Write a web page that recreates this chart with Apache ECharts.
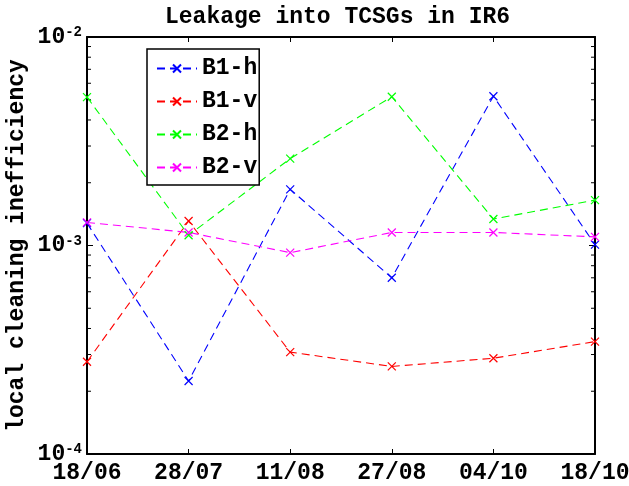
<!DOCTYPE html>
<html>
<head>
<meta charset="utf-8">
<script src="https://cdn.jsdelivr.net/npm/echarts@6/dist/echarts.min.js"></script>
<style>
html,body{margin:0;padding:0;background:#fff;}
#chart{width:629px;height:486px;}
</style>
</head>
<body>
<div id="chart"></div>
<script>
const CATEGORIES = ['18/06', '28/07', '11/08', '27/08', '04/10', '18/10'];
const B1_H = [1.28e-3, 2.24e-4, 1.86e-3, 7.0e-4, 5.2e-3, 1.01e-3];
const B1_V = [2.77e-4, 1.31e-3, 3.08e-4, 2.63e-4, 2.88e-4, 3.46e-4];
const B2_H = [5.15e-3, 1.12e-3, 2.61e-3, 5.17e-3, 1.34e-3, 1.65e-3];
const B2_V = [1.29e-3, 1.155e-3, 9.24e-4, 1.155e-3, 1.155e-3, 1.10e-3];
const SERIES_NAMES = ['B1-h', 'B1-v', 'B2-h', 'B2-v'];
const SERIES_COLORS = ['#0000ff', '#ff0000', '#00ff00', '#ff00ff'];
const Y_MIN = 1e-4, Y_MAX = 1e-2;
const MINOR_TICKS = [2e-4,3e-4,4e-4,5e-4,6e-4,7e-4,8e-4,9e-4,2e-3,3e-3,4e-3,5e-3,6e-3,7e-3,8e-3,9e-3];

const FONT = 'Liberation Mono';
const XMARK = 'path://M0,0L10,10M10,0L0,10';

function mkSeries(name, data, color) {
  return {
    name: name, type: 'line', data: data, xAxisIndex: 0, yAxisIndex: 0,
    symbol: XMARK, symbolSize: 8, symbolKeepAspect: true,
    showAllSymbol: true, clip: false,
    lineStyle: {color: color, width: 1.1, type: [8, 5]},
    itemStyle: {color: color, borderColor: color, borderWidth: 1.2},
    emphasis: {disabled: true}, animation: false
  };
}

const chart = echarts.init(document.getElementById('chart'), null, {renderer: 'canvas'});
const allData = [B1_H, B1_V, B2_H, B2_V];

const yLabel = {
  margin: 5,
  formatter: function (v) {
    const e = Math.round(Math.log10(v));
    return '{b|10}{s|' + e + '}';
  },
  rich: {
    b: {fontFamily: FONT, fontWeight: 'bold', fontSize: 23, lineHeight: 23, color: '#000'},
    s: {fontFamily: FONT, fontWeight: 'bold', fontSize: 14, lineHeight: 14, verticalAlign: 'top', color: '#000', padding: [0, 0, 4, 0]}
  }
};

const option = {
  backgroundColor: '#fff',
  animation: false,
  title: {
    text: 'Leakage into TCSGs in IR6',
    left: 165, top: 6, padding: 0,
    textStyle: {fontFamily: FONT, fontWeight: 'bold', fontSize: 23, color: '#000'}
  },
  grid: {left: 87, right: 34, top: 37, bottom: 32, containLabel: false, outerBoundsMode: 'none'},
  legend: {
    orient: 'vertical', left: 147, top: 49,
    data: SERIES_NAMES,
    itemWidth: 40, itemHeight: 10, itemGap: 10,
    padding: [8, 2, 6, 9],
    backgroundColor: '#fff', borderColor: '#000', borderWidth: 1.5, borderRadius: 0,
    textStyle: {fontFamily: FONT, fontWeight: 'bold', fontSize: 23, lineHeight: 23, color: '#000'},
    selectedMode: false
  },
  xAxis: [{
    type: 'category', data: CATEGORIES, boundaryGap: false, position: 'bottom',
    axisLine: {show: true, onZero: false, lineStyle: {color: '#000', width: 2}},
    axisTick: {show: true, inside: true, length: 5, lineStyle: {color: '#000', width: 1}},
    axisLabel: {show: true, interval: 0, margin: 8, showMinLabel: true, showMaxLabel: true, hideOverlap: false,
      fontFamily: FONT, fontWeight: 'bold', fontSize: 23, color: '#000'},
    splitLine: {show: false}
  }, {
    type: 'category', data: CATEGORIES, boundaryGap: false, position: 'top',
    axisLine: {show: true, onZero: false, lineStyle: {color: '#000', width: 2}},
    axisTick: {show: true, inside: true, length: 5, lineStyle: {color: '#000', width: 1}},
    axisLabel: {show: false},
    splitLine: {show: false}
  }],
  yAxis: [{
    type: 'log', logBase: 10, min: Y_MIN, max: Y_MAX, splitNumber: 2, position: 'left',
    name: 'local cleaning inefficiency', nameLocation: 'middle', nameGap: 58, nameMoveOverlap: false,
    nameTextStyle: {fontFamily: FONT, fontWeight: 'bold', fontSize: 23, color: '#000'},
    axisLine: {show: true, onZero: false, lineStyle: {color: '#000', width: 2}},
    axisTick: {show: true, inside: true, length: 6, lineStyle: {color: '#000', width: 1}},
    axisLabel: yLabel,
    splitLine: {show: false}
  }, {
    type: 'log', logBase: 10, min: Y_MIN, max: Y_MAX, splitNumber: 2, position: 'right',
    axisLine: {show: true, onZero: false, lineStyle: {color: '#000', width: 2}},
    axisTick: {show: true, inside: true, length: 6, lineStyle: {color: '#000', width: 1}},
    axisLabel: {show: false},
    splitLine: {show: false}
  }],
  series: [
    {
      type: 'custom', name: 'minorTicks', xAxisIndex: 0, yAxisIndex: 0,
      silent: true, clip: false, z: 1,
      data: MINOR_TICKS.map(function (v) { return [0, v]; }),
      renderItem: function (params, api) {
        const y = api.coord([0, api.value(1)])[1];
        const cs = params.coordSys;
        return {type: 'group', children: [
          {type: 'line', shape: {x1: cs.x, y1: y, x2: cs.x + 4, y2: y}, style: {stroke: '#000', lineWidth: 1}},
          {type: 'line', shape: {x1: cs.x + cs.width - 4, y1: y, x2: cs.x + cs.width, y2: y}, style: {stroke: '#000', lineWidth: 1}}
        ]};
      }
    }
  ].concat(SERIES_NAMES.map(function (n, i) { return mkSeries(n, allData[i], SERIES_COLORS[i]); }))
};
chart.setOption(option);
</script>
</body>
</html>
